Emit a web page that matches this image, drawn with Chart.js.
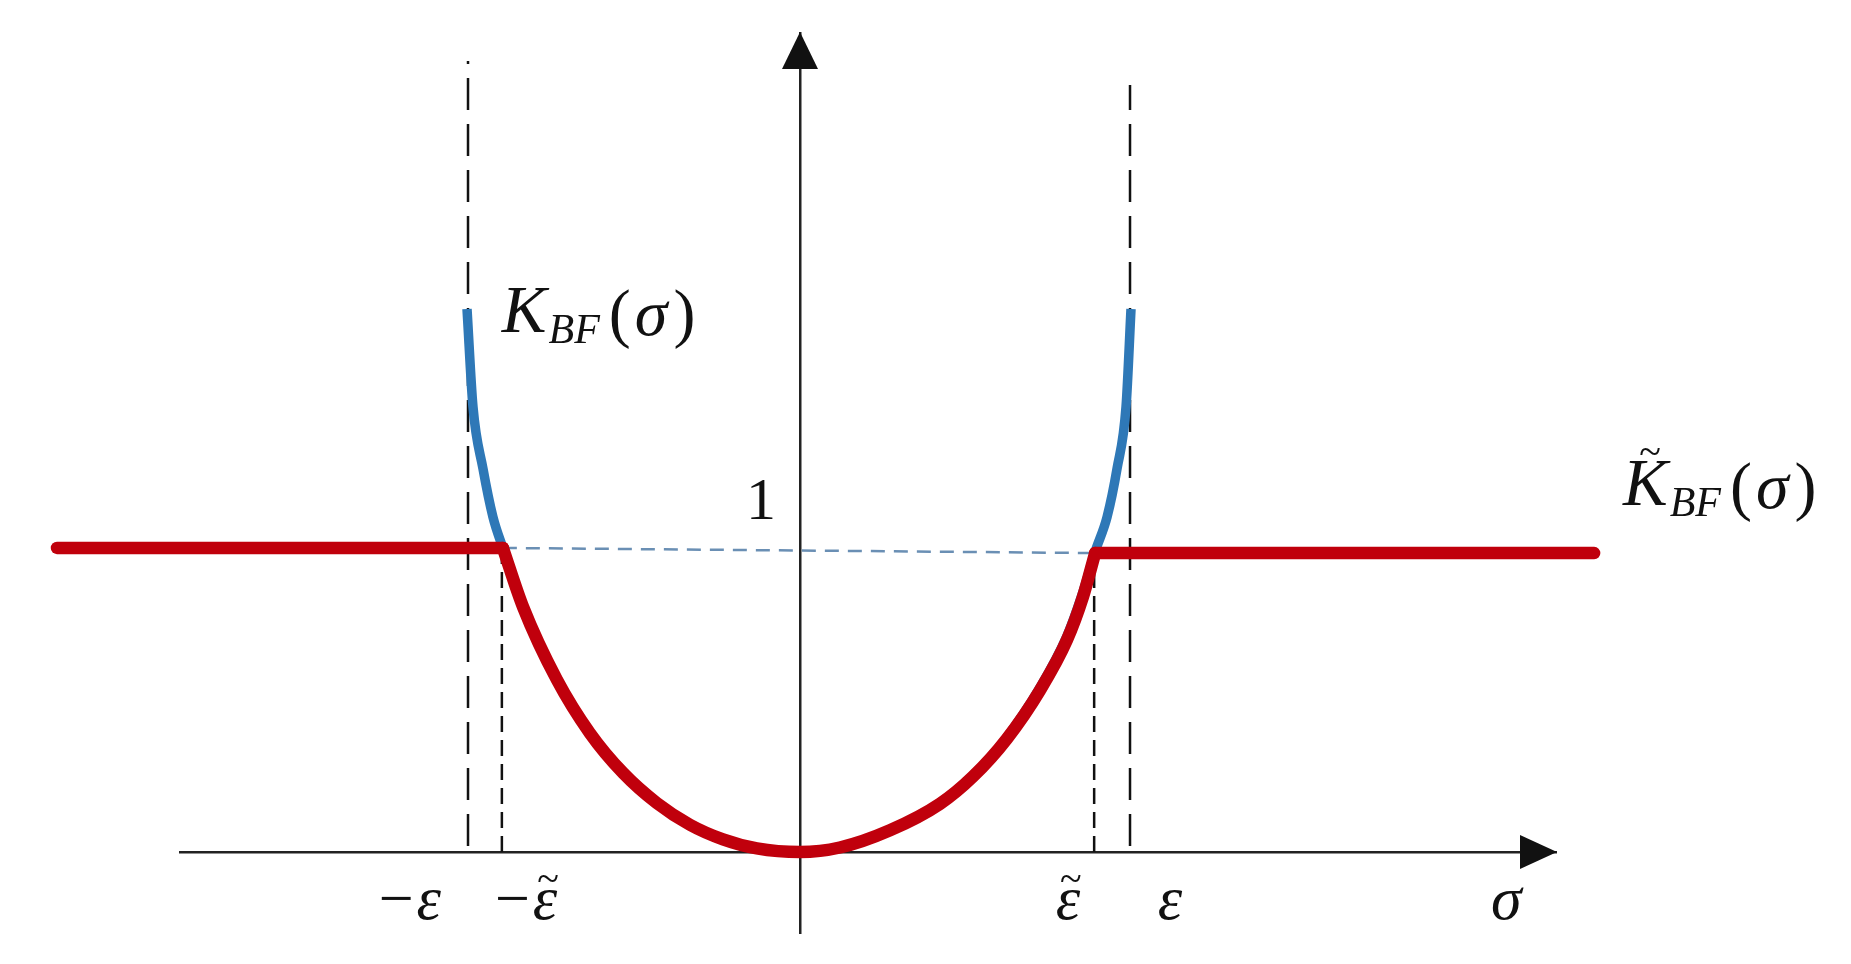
<!DOCTYPE html>
<html>
<head>
<meta charset="utf-8">
<script src="https://cdn.jsdelivr.net/npm/chart.js@4.4.1/dist/chart.umd.min.js"></script>
<style>
  html, body { margin: 0; padding: 0; background: #fff; }
  canvas { display: block; }
</style>
</head>
<body>
<canvas id="barrierChart" width="1851" height="964"></canvas>
<script>
// values, sigma in units of epsilon, K relative to the level 1
const blueSigma = [-1.003, -0.985, -0.955, -0.925, -0.895, -0.834, -0.732, -0.633, -0.533, -0.431, -0.331, -0.232, -0.130, 0, 0.120, 0.271, 0.422, 0.521, 0.623, 0.723, 0.804, 0.852, 0.889, 0.925, 0.955, 0.982, 0.997];
const blueK = [1.798, 1.474, 1.270, 1.110, 1.007, 0.811, 0.570, 0.394, 0.262, 0.162, 0.090, 0.042, 0.012, 0, 0.015, 0.072, 0.160, 0.250, 0.380, 0.545, 0.715, 0.860, 0.995, 1.110, 1.270, 1.474, 1.798];

const redSigma = [-0.895, -0.834, -0.732, -0.633, -0.533, -0.431, -0.331, -0.232, -0.130, 0, 0.120, 0.271, 0.422, 0.521, 0.623, 0.723, 0.804, 0.852, 0.889];
const redK = [1.007, 0.811, 0.570, 0.394, 0.262, 0.162, 0.090, 0.042, 0.012, 0, 0.015, 0.072, 0.160, 0.250, 0.375, 0.536, 0.702, 0.844, 0.990];

const redLeftSigma = [-2.238, -0.895];
const redLeftK = [1.007, 1.007];
const redRightSigma = [0.889, 2.392];
const redRightK = [0.990, 0.990];

const levelSigma = [-0.895, 0.889];
const levelK = [1.007, 0.990];

const epsSigma = [-1.0, 0.994];
const epsTop = [2.619, 2.540];
const epsTildeSigma = [-0.898, 0.886];
const epsTildeTop = [1.007, 0.990];

const xLabels = ['\u2212\u03b5', '\u2212\u03b5', '\u03b5', '\u03b5', '\u03c3'];
const xLabelTilde = [false, true, true, false, false];
const xLabelSigma = [-1.181, -0.831, 0.807, 1.114, 2.127];
const yLabels = ['1'];
const yLabelK = [1];

// anchors of the two curve names: [sigma, K at baseline]
const curveNameTilde = [false, true];
const curveNameSigma = [-0.898, 2.479];
const curveNameK = [1.722, 1.149];

const RED = '#c0000c';
const BLUE = '#2e78b7';
const SERIF = '"Liberation Serif", "Times New Roman", serif';
const X_FONT_SIZE = 62;

const pts = (xs, ys) => xs.map((x, i) => ({ x, y: ys[i] }));

const line = (data, extra) => Object.assign({
    data,
    pointRadius: 0,
    fill: false,
    clip: false,
    borderCapStyle: 'butt',
}, extra);

const datasets = [
    line(pts(redLeftSigma, redLeftK), { borderColor: RED, borderWidth: 12.5, borderCapStyle: 'round' }),
    line(pts(redSigma, redK), { borderColor: RED, borderWidth: 12.5, borderCapStyle: 'round', cubicInterpolationMode: 'monotone' }),
    line(pts(redRightSigma, redRightK), { borderColor: RED, borderWidth: 12.5, borderCapStyle: 'round' }),
    line(pts(blueSigma, blueK), { borderColor: BLUE, borderWidth: 9.5, cubicInterpolationMode: 'monotone' }),
    line(pts(levelSigma, levelK), { borderColor: '#6a8fb4', borderWidth: 2.5, borderDash: [14, 9] }),
];
epsSigma.forEach((s, i) => {
    datasets.push(line(pts([s, s], [0.02, epsTop[i]]), { borderColor: '#111', borderWidth: 2.5, borderDash: [32, 14] }));
});
epsTildeSigma.forEach((s, i) => {
    datasets.push(line(pts([s, s], [0, epsTildeTop[i]]), { borderColor: '#111', borderWidth: 2.5, borderDash: [16, 8] }));
});

// arrow heads on the two axes
const axisArrows = {
    id: 'axisArrows',
    afterDatasetsDraw(chart) {
        const { ctx, scales: { x, y } } = chart;
        const x0 = x.getPixelForValue(0);
        const y0 = y.getPixelForValue(0);
        ctx.save();
        ctx.fillStyle = '#111';
        ctx.beginPath();
        ctx.moveTo(x0, y.top - 1);
        ctx.lineTo(x0 - 18, y.top + 36);
        ctx.lineTo(x0 + 18, y.top + 36);
        ctx.closePath();
        ctx.fill();
        ctx.beginPath();
        ctx.moveTo(x.right + 1, y0);
        ctx.lineTo(x.right - 36, y0 - 17);
        ctx.lineTo(x.right - 36, y0 + 17);
        ctx.closePath();
        ctx.fill();
        ctx.restore();
    },
};

// tilde accents over the epsilon tick labels
const tickTildes = {
    id: 'tickTildes',
    afterDraw(chart) {
        const { ctx, scales: { x, y } } = chart;
        const y0 = y.getPixelForValue(0);
        ctx.save();
        ctx.fillStyle = '#111';
        ctx.textAlign = 'center';
        ctx.textBaseline = 'alphabetic';
        xLabels.forEach((label, i) => {
            if (!xLabelTilde[i]) return;
            ctx.font = 'italic ' + X_FONT_SIZE + 'px ' + SERIF;
            const w = ctx.measureText(label).width;
            const we = ctx.measureText('\u03b5').width;
            const cx = x.getPixelForValue(xLabelSigma[i]) + w / 2 - we / 2 + 3;
            ctx.font = '40px ' + SERIF;
            ctx.fillText('~', cx, y0 + 40);
        });
        ctx.restore();
    },
};

// K_BF(sigma) names next to the curves
const curveNameLabels = {
    id: 'curveNameLabels',
    afterDatasetsDraw(chart) {
        const { ctx, scales: { x, y } } = chart;
        ctx.save();
        ctx.fillStyle = '#111';
        ctx.textBaseline = 'alphabetic';
        ctx.textAlign = 'left';
        curveNameTilde.forEach((tilde, i) => {
            let px = x.getPixelForValue(curveNameSigma[i]);
            const py = y.getPixelForValue(curveNameK[i]);
            ctx.font = 'italic 67px ' + SERIF;
            ctx.fillText('K', px, py);
            if (tilde) {
                ctx.save();
                ctx.font = '40px ' + SERIF;
                ctx.textAlign = 'center';
                ctx.fillText('~', px + 27, py - 40);
                ctx.restore();
            }
            px += ctx.measureText('K').width + 2;
            ctx.font = 'italic 42px ' + SERIF;
            ctx.fillText('BF', px, py + 11);
            px += ctx.measureText('BF').width + 9;
            ctx.font = '66px ' + SERIF;
            ctx.fillText('(', px, py + 3);
            px += ctx.measureText('(').width + 4;
            ctx.font = 'italic 66px ' + SERIF;
            ctx.fillText('\u03c3', px, py + 3);
            px += ctx.measureText('\u03c3').width + 6;
            ctx.font = '66px ' + SERIF;
            ctx.fillText(')', px, py + 3);
        });
        ctx.restore();
    },
};

new Chart(document.getElementById('barrierChart'), {
    type: 'line',
    data: { datasets },
    options: {
        responsive: false,
        animation: false,
        devicePixelRatio: 1,
        layout: { padding: { left: 180, right: 295, top: 33, bottom: 31 } },
        plugins: { legend: { display: false }, tooltip: { enabled: false } },
        scales: {
            x: {
                type: 'linear',
                position: { y: 0 },
                min: -1.8675,
                max: 2.2771,
                bounds: 'data',
                grid: { display: false, drawTicks: false },
                border: { display: true, color: '#222', width: 2.5 },
                afterBuildTicks: (scale) => {
                    scale.ticks = xLabelSigma.map((v) => ({ value: v }));
                },
                ticks: {
                    autoSkip: false,
                    maxRotation: 0,
                    padding: 13,
                    color: '#111',
                    font: { family: SERIF, style: 'italic', size: X_FONT_SIZE, lineHeight: 1.2 },
                    callback: (v, i) => xLabels[i],
                },
            },
            y: {
                type: 'linear',
                position: { x: 0 },
                min: -0.268,
                max: 2.712,
                bounds: 'data',
                grid: { display: false, drawTicks: false },
                border: { display: true, color: '#222', width: 2.5 },
                afterBuildTicks: (scale) => {
                    scale.ticks = yLabelK.map((v) => ({ value: v }));
                },
                ticks: {
                    autoSkip: false,
                    padding: 0,
                    labelOffset: -47,
                    color: '#111',
                    font: { family: SERIF, size: 60, lineHeight: 0.05 },
                    // thin spaces keep the "1" clear of the axis line
                    callback: (v, i) => yLabels[i] + '\u2009\u2009',
                },
            },
        },
    },
    plugins: [axisArrows, curveNameLabels, tickTildes],
});
</script>
</body>
</html>
